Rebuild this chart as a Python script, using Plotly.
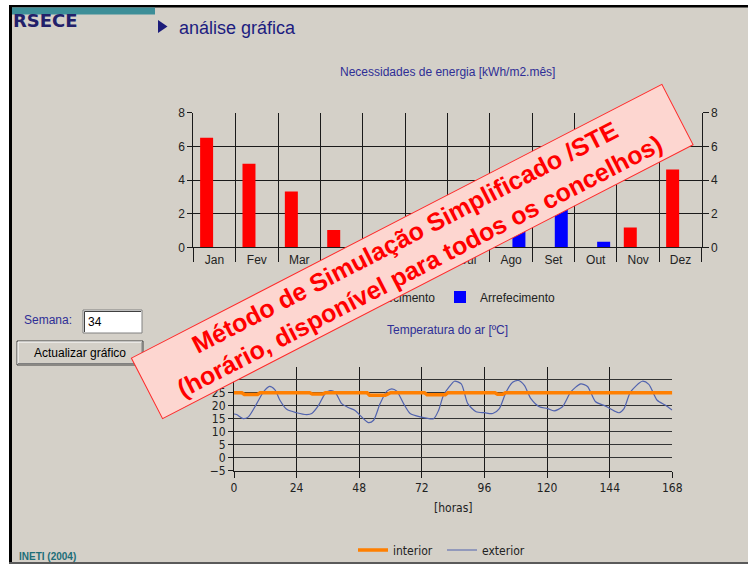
import plotly.graph_objects as go

# ---------------- data ----------------
months = ["Jan", "Fev", "Mar", "Abr", "Mai", "Jun", "Jul", "Ago", "Set", "Out", "Nov", "Dez"]
heating = [6.51, 4.96, 3.32, 1.03, 0.2, 0.0, 0.0, 0.0, 0.0, 0.0, 1.17, 4.63]
cooling = [0.0, 0.0, 0.0, 0.0, 0.0, 0.5, 1.5, 1.8, 2.32, 0.33, 0.0, 0.0]

ext_hours = [0, 1, 3.6, 5.5, 8.7, 11.3, 13.6, 15.7, 17.6, 20.2, 24, 27.9, 29.8, 32.4, 34.9,
             36.8, 38.7, 41.3, 43.8, 46.4, 48.3, 51.5, 53.5, 56, 58.6, 60.5, 62.4, 65, 67.5,
             71.4, 76.5, 78.4, 80.3, 82.6, 84.5, 87.1, 89.6, 92.8, 96, 99.2, 101.7, 104.3,
             106.8, 109.1, 111.3, 113.8, 117, 120.2, 122.7, 125.9, 129.1, 132.9, 135.5,
             138.6, 142.5, 145.7, 147.6, 149.5, 152, 156.5, 159, 162.2, 165.4, 168]
ext_temp = [16.8, 16.6, 15.0, 15.7, 20.8, 25.3, 27.4, 26.1, 22.1, 18.6, 17.3, 16.6, 17.0, 20.1, 24.6,
            25.8, 25.3, 20.8, 19.3, 18.2, 16.3, 13.5, 14.4, 20.8, 25.6, 26.5, 25.6, 20.8, 17.0,
            15.7, 15.0, 18.2, 24.0, 27.4, 29.4, 28.4, 20.8, 17.7, 17.3, 17.0, 18.9, 25.3,
            29.0, 29.7, 27.8, 22.7, 19.6, 18.9, 18.0, 19.6, 25.3, 28.4, 27.4,
            21.5, 19.8, 18.0, 17.3, 18.9, 25.3, 29.4, 28.2, 22.1, 20.2, 18.3]

int_hours = [0, 3, 4, 9, 10, 29, 30, 34, 35, 51, 52, 58, 60, 73, 74, 81, 82, 100, 101, 103, 104,
             149, 150, 151, 168]
int_temp = [25, 25, 24.3, 24.3, 25, 25, 24.5, 24.5, 25, 25, 24.0, 24.0, 25, 25, 24.2, 24.2, 25,
            25, 24.4, 24.4, 25, 25, 24.7, 25, 25]

bar_y_ticks = [0, 2, 4, 6, 8]
temp_y_ticks = [-5, 0, 5, 10, 15, 20, 25, 30, 35]
hour_ticks = [0, 24, 48, 72, 96, 120, 144, 168]

# ---------------- geometry helpers ----------------
W, H = 748, 564


def X(px):
    return px / W


def Y(py):
    return 1 - py / H


BG = "#D4D0C8"
NAVY = "#2E2E96"
FONT = "Liberation Sans, Arial, sans-serif"
NARROW = "Liberation Sans Narrow, Arial Narrow, DejaVu Sans Condensed, sans-serif"

fig = go.Figure()

# bars (cooling on the mirrored right axis, aligned as a group)
fig.add_trace(go.Bar(x=months, y=heating, name="Aquecimento", marker_color="#FF0000",
                     marker_line_width=0, xaxis="x", yaxis="y", legend="legend",
                     alignmentgroup="bars", offsetgroup="heat"))
fig.add_trace(go.Bar(x=months, y=cooling, name="Arrefecimento", marker_color="#0000FF",
                     marker_line_width=0, xaxis="x", yaxis="y2", legend="legend",
                     alignmentgroup="bars", offsetgroup="cool"))

# temperatures
fig.add_trace(go.Scatter(x=ext_hours, y=ext_temp, name="exterior", mode="lines",
                         line=dict(color="#5163AE", width=1.2, shape="spline", smoothing=0.7),
                         xaxis="x3", yaxis="y3", legend="legend2", legendrank=2))
fig.add_trace(go.Scatter(x=int_hours, y=int_temp, name="interior", mode="lines",
                         line=dict(color="#FF7F00", width=3.5),
                         xaxis="x3", yaxis="y3", legend="legend2", legendrank=1))

grid = "#1A1A1A"
tick_font = dict(family=FONT, size=12, color="#222222")
narrow_font = dict(family=NARROW, size=12, color="#222222")

fig.update_layout(
    width=W, height=H,
    margin=dict(l=0, r=0, t=0, b=0, pad=0, autoexpand=False),
    paper_bgcolor=BG, plot_bgcolor=BG,
    barmode="group", bargap=0.257, bargroupgap=0.175,
    font=dict(family=FONT, size=12, color="#222222"),
    xaxis=dict(domain=[X(193.3), X(701.7)], anchor="y", type="category",
               tickson="boundaries", ticks="outside", ticklen=14, tickcolor=grid,
               showgrid=True, gridcolor=grid, gridwidth=1,
               showline=True, linecolor=grid, linewidth=1, automargin=False,
               tickfont=tick_font, ticklabelstandoff=1, fixedrange=True),
    yaxis=dict(domain=[Y(247.3), Y(112.7)], anchor="x", range=[0, 8],
               tickvals=bar_y_ticks, ticks="outside", ticklen=5, tickcolor=grid,
               showgrid=True, gridcolor=grid, gridwidth=1, zeroline=False, automargin=False,
               showline=True, linecolor=grid, tickfont=tick_font, fixedrange=True),
    yaxis2=dict(overlaying="y", side="right", anchor="x", range=[0, 8],
                tickvals=bar_y_ticks, ticks="outside", ticklen=6, tickcolor=grid,
                showgrid=False, zeroline=False, showline=True, linecolor=grid, automargin=False,
                tickfont=tick_font, fixedrange=True),
    xaxis3=dict(domain=[X(234), X(672.3)], anchor="y3", range=[0, 168],
                tickvals=hour_ticks, ticks="outside", ticklen=6, tickcolor=grid,
                showgrid=True, gridcolor=grid, gridwidth=1.2, zeroline=False, automargin=False,
                showline=True, linecolor=grid, tickfont=narrow_font, fixedrange=True),
    yaxis3=dict(domain=[Y(470.7), Y(366.7)], anchor="x3", range=[-5, 35],
                tickvals=temp_y_ticks, ticks="outside", ticklen=5, tickcolor=grid,
                showgrid=True, gridcolor="#333333", gridwidth=1.4, zeroline=False, automargin=False,
                showline=True, linecolor=grid, tickfont=narrow_font, fixedrange=True),
    legend=dict(orientation="h", x=X(325), xanchor="left", y=Y(297), yanchor="middle",
                bgcolor="rgba(0,0,0,0)", font=dict(family=FONT, size=12, color="#222222"),
                entrywidth=70, traceorder="normal"),
    legend2=dict(orientation="h", x=X(353), xanchor="left", y=Y(550), yanchor="middle",
                 bgcolor="rgba(0,0,0,0)", font=narrow_font, entrywidth=44,
                 traceorder="normal"),
)

shapes = []
# window frame
shapes.append(dict(type="rect", xref="paper", yref="paper", x0=0, x1=1, y0=Y(5), y1=1,
                   fillcolor="#FFFFFF", line_width=0, layer="below"))
shapes.append(dict(type="rect", xref="paper", yref="paper", x0=0, x1=X(9), y0=0, y1=1,
                   fillcolor="#FFFFFF", line_width=0, layer="below"))
shapes.append(dict(type="rect", xref="paper", yref="paper", x0=X(9), x1=1, y0=Y(7.5), y1=Y(5),
                   fillcolor="#000000", line_width=0))
shapes.append(dict(type="rect", xref="paper", yref="paper", x0=X(9), x1=X(12), y0=0, y1=Y(5),
                   fillcolor="#000000", line_width=0))
shapes.append(dict(type="rect", xref="paper", yref="paper", x0=X(9), x1=1, y0=0, y1=Y(562),
                   fillcolor="#5A5A5A", line_width=0))
# teal header bar
shapes.append(dict(type="rect", xref="paper", yref="paper", x0=X(12), x1=X(155), y0=Y(14.5),
                   y1=Y(7.5), fillcolor="#3D8E98", line_width=0))
# triangle marker
shapes.append(dict(type="path", xref="paper", yref="paper",
                   path=f"M{X(158)},{Y(20)} L{X(167.5)},{Y(26.5)} L{X(158)},{Y(33)} Z",
                   fillcolor="#1C1C7A", line_width=0))
# input box
shapes.append(dict(type="rect", xref="paper", yref="paper", x0=X(83), x1=X(142), y0=Y(333),
                   y1=Y(310), fillcolor="#FFFFFF", line=dict(color="#808080", width=1)))
shapes.append(dict(type="path", xref="paper", yref="paper",
                   path=f"M{X(84.5)},{Y(332)} L{X(84.5)},{Y(311.5)} L{X(141)},{Y(311.5)}",
                   line=dict(color="#404040", width=1)))
# button
shapes.append(dict(type="rect", xref="paper", yref="paper", x0=X(17), x1=X(143), y0=Y(365),
                   y1=Y(341), fillcolor=BG, line=dict(color="#404040", width=1)))
shapes.append(dict(type="path", xref="paper", yref="paper",
                   path=f"M{X(18)},{Y(364)} L{X(18)},{Y(342)} L{X(142)},{Y(342)}",
                   line=dict(color="#FFFFFF", width=1)))
shapes.append(dict(type="path", xref="paper", yref="paper",
                   path=f"M{X(18)},{Y(363.5)} L{X(142)},{Y(363.5)} L{X(142)},{Y(342)}",
                   line=dict(color="#808080", width=1)))

annotations = []


def text(px, py, s, size=12, color="#222222", family=FONT, xanchor="left", bold=False):
    annotations.append(dict(xref="paper", yref="paper", x=X(px), y=Y(py), text=(f"<b>{s}</b>" if bold else s),
                            showarrow=False, xanchor=xanchor, yanchor="middle",
                            font=dict(family=family, size=size, color=color)))


text(11, 20, "RSECE", size=18, color="#22206A", family="DejaVu Sans, Verdana, sans-serif", bold=True)
text(177, 28, "análise gráfica", size=18, color="#1C1C80")
text(448, 72, "Necessidades de energia [kWh/m2.mês]", size=12, color=NAVY, xanchor="center")
text(448, 330, "Temperatura do ar [ºC]", size=12, color=NAVY, xanchor="center")
text(22, 320, "Semana:", size=12, color=NAVY)
text(86, 322, "34", size=12, color="#000000")
text(80, 353, "Actualizar gráfico", size=12, color="#000000", xanchor="center")
text(453, 508, "[horas]", size=12, color="#222222", family=NARROW, xanchor="center")
text(17, 556, "INETI (2004)", size=10, color="#1E6E78", bold=True)

# overlay banner (drawn last so it sits on top)
annotations.append(dict(
    xref="paper", yref="paper", x=X(412), y=Y(251), xanchor="center", yanchor="middle",
    text="<b>Método de Simulação Simplificado /STE<br>(horário, disponível para todos os concelhos)</b>",
    showarrow=False, textangle=-27.3, width=594, height=65, align="center", valign="middle",
    bgcolor="#FDD6D0", bordercolor="#FF2A2A", borderwidth=1, borderpad=1,
    font=dict(family=FONT, size=25, color="#FF0000")))

fig.update_layout(shapes=shapes, annotations=annotations)

fig.write_html("out.html")
